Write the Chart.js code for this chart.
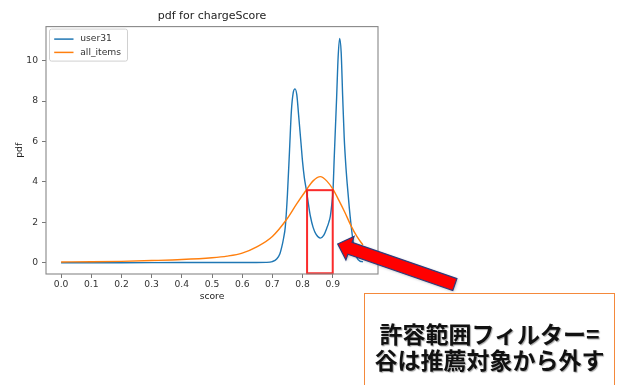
<!DOCTYPE html>
<html>
<head>
<meta charset="utf-8">
<script src="https://cdn.jsdelivr.net/npm/chart.js@4.4.1/dist/chart.umd.min.js"></script>
<style>
  html, body { margin: 0; padding: 0; background: #fff; }
  #wrap { position: relative; width: 619px; height: 385px; overflow: hidden; }
  #chart { position: absolute; left: 0; top: 0; }
  #note {
    position: absolute; left: 364px; top: 293px; width: 251px; height: 120px;
    box-sizing: border-box; border: 1.5px solid #f4893b;
    font-family: "Noto Sans CJK JP", sans-serif; font-weight: bold;
    font-size: 23px; line-height: 26px; text-align: center;
    padding-top: 26px; color: #111;
    text-shadow: 1px 1px 1px rgba(0,0,0,0.35);
  }
</style>
</head>
<body>
<div id="wrap">
  <canvas id="chart" width="619" height="385"></canvas>
  <div id="note">許容範囲フィルター=<br>谷は推薦対象から外す</div>
</div>
<script>
// values
const BLUE_X = [0.00, 0.20, 0.40, 0.60, 0.68, 0.70, 0.715, 0.725, 0.731, 0.737, 0.743, 0.75, 0.757, 0.763, 0.769, 0.775,
  0.781, 0.787, 0.795, 0.80, 0.806, 0.8125, 0.82, 0.826, 0.835, 0.845, 0.859, 0.87, 0.88, 0.887, 0.892, 0.897, 0.901,
  0.905, 0.909, 0.913, 0.918, 0.923, 0.928, 0.933, 0.938, 0.943, 0.948, 0.955, 0.964, 0.972, 0.98, 0.99, 1.00];
const BLUE_Y = [0.00, 0.00, 0.01, 0.01, 0.02, 0.06, 0.2, 0.45, 0.77, 1.2, 1.8, 3.4, 5.6, 7.5, 8.4, 8.6,
  8.3, 7.3, 5.9, 5.0, 4.2, 3.6, 2.85, 2.3, 1.75, 1.4, 1.22, 1.35, 1.7, 2.0, 2.3, 2.9, 3.6,
  5.2, 6.7, 8.2, 10.2, 11.1, 10.4, 8.2, 6.2, 4.9, 3.9, 2.7, 1.45, 0.65, 0.25, 0.08, 0.05];

const ORANGE_X = [0.00, 0.10, 0.20, 0.30, 0.40, 0.50, 0.55, 0.60, 0.65, 0.70, 0.75, 0.78, 0.8125, 0.835, 0.859,
  0.88, 0.90, 0.92, 0.94, 0.96, 0.98, 1.00];
const ORANGE_Y = [0.04, 0.05, 0.07, 0.11, 0.16, 0.25, 0.33, 0.48, 0.8, 1.3, 2.2, 2.9, 3.6, 4.05, 4.26,
  4.05, 3.65, 3.1, 2.5, 1.85, 1.3, 0.88];

const X_TICKS = [0.0, 0.1, 0.2, 0.3, 0.4, 0.5, 0.6, 0.7, 0.8, 0.9];
const Y_TICKS = [0, 2, 4, 6, 8, 10];
const X_RANGE = [-0.05, 1.05];
const Y_RANGE = [-0.556, 11.68];

// annotations in data units: [x0, x1, y0, y1] and arrow [x, y]
const VALLEY_BOX = [0.815, 0.90, -0.52, 3.59];
const ARROW_TIP = [0.9165, 0.93];
const ARROW_TAIL = [1.3046, -1.077];

const tickFont = { family: 'DejaVu Sans', size: 9.2 };

const framePlugin = {
  id: 'frame',
  afterDatasetsDraw(chart) {
    const { ctx, chartArea: a, scales: { x, y } } = chart;
    // red box over the valley
    const x0 = x.getPixelForValue(VALLEY_BOX[0]), x1 = x.getPixelForValue(VALLEY_BOX[1]);
    const y0 = y.getPixelForValue(VALLEY_BOX[2]), y1 = y.getPixelForValue(VALLEY_BOX[3]);
    ctx.save();
    ctx.strokeStyle = 'rgba(250,20,20,0.9)';
    ctx.lineWidth = 2;
    ctx.strokeRect(x0, y1, x1 - x0, y0 - y1);
    // spines
    ctx.strokeStyle = '#888';
    ctx.lineWidth = 1.1;
    ctx.strokeRect(a.left, a.top, a.right - a.left, a.bottom - a.top);
    ctx.restore();
  },
  afterDraw(chart) {
    const { ctx, chartArea: a, scales: { x, y } } = chart;
    // legend
    const bx = a.left + 3.5, by = a.top + 2.5, bw = 78, bh = 32;
    ctx.save();
    ctx.fillStyle = 'rgba(255,255,255,0.8)';
    ctx.strokeStyle = '#d0d0d0';
    ctx.lineWidth = 1;
    ctx.beginPath();
    ctx.roundRect(bx, by, bw, bh, 2);
    ctx.fill();
    ctx.stroke();
    ctx.font = '9.2px "DejaVu Sans"';
    ctx.textBaseline = 'middle';
    chart.data.datasets.forEach((ds, i) => {
      const ly = by + 10 + i * 13.3;
      ctx.strokeStyle = ds.borderColor;
      ctx.lineWidth = 1.5;
      ctx.beginPath();
      ctx.moveTo(bx + 4.7, ly);
      ctx.lineTo(bx + 24, ly);
      ctx.stroke();
      ctx.fillStyle = '#333';
      ctx.fillText(ds.label, bx + 30.7, ly);
    });

    // big red arrow
    const T = { x: x.getPixelForValue(ARROW_TIP[0]), y: y.getPixelForValue(ARROW_TIP[1]) };
    const C = { x: x.getPixelForValue(ARROW_TAIL[0]), y: y.getPixelForValue(ARROW_TAIL[1]) };
    const len = Math.hypot(T.x - C.x, T.y - C.y);
    const ux = (T.x - C.x) / len, uy = (T.y - C.y) / len;
    const nx = -uy, ny = ux;
    const headLen = 13, headHalf = 12.5, shaftHalf = 6.3;
    const B = { x: T.x - ux * headLen, y: T.y - uy * headLen };
    const pts = [
      [C.x + nx * shaftHalf, C.y + ny * shaftHalf],
      [B.x + nx * shaftHalf, B.y + ny * shaftHalf],
      [B.x + nx * headHalf, B.y + ny * headHalf],
      [T.x, T.y],
      [B.x - nx * headHalf, B.y - ny * headHalf],
      [B.x - nx * shaftHalf, B.y - ny * shaftHalf],
      [C.x - nx * shaftHalf, C.y - ny * shaftHalf]
    ];
    ctx.beginPath();
    pts.forEach((p, i) => i ? ctx.lineTo(p[0], p[1]) : ctx.moveTo(p[0], p[1]));
    ctx.closePath();
    ctx.shadowColor = 'rgba(0,0,0,0.3)';
    ctx.shadowBlur = 3;
    ctx.shadowOffsetX = 1;
    ctx.shadowOffsetY = 1;
    ctx.fillStyle = '#ff0000';
    ctx.fill();
    ctx.shadowColor = 'transparent';
    ctx.strokeStyle = '#2d3c7c';
    ctx.lineWidth = 1.2;
    ctx.lineJoin = 'miter';
    ctx.stroke();
    ctx.restore();
  }
};

new Chart(document.getElementById('chart'), {
  type: 'line',
  data: {
    datasets: [
      {
        label: 'user31',
        data: BLUE_X.map((v, i) => ({ x: v, y: BLUE_Y[i] })),
        borderColor: '#1f77b4', borderWidth: 1.4, pointRadius: 0,
        cubicInterpolationMode: 'monotone', fill: false, order: 1
      },
      {
        label: 'all_items',
        data: ORANGE_X.map((v, i) => ({ x: v, y: ORANGE_Y[i] })),
        borderColor: '#ff7f0e', borderWidth: 1.4, pointRadius: 0,
        cubicInterpolationMode: 'monotone', fill: false, order: 0
      }
    ]
  },
  options: {
    responsive: false,
    animation: false,
    layout: { padding: { left: 0, top: 0, right: 241, bottom: 71 } },
    plugins: {
      legend: { display: false },
      tooltip: { enabled: false },
      title: {
        display: true, text: 'pdf for chargeScore', fullSize: false,
        font: { family: 'DejaVu Sans', size: 11, weight: 'normal' }, color: '#222',
        padding: { top: 10, bottom: 3.4 }
      }
    },
    scales: {
      x: {
        type: 'linear', min: X_RANGE[0], max: X_RANGE[1],
        afterBuildTicks: s => { s.ticks = X_TICKS.map(v => ({ value: v })); },
        afterFit: s => { s.height = 40; },
        ticks: { font: tickFont, color: '#333', padding: 1, maxRotation: 0, autoSkip: false,
          callback: v => v.toFixed(1) },
        grid: { drawOnChartArea: false, drawTicks: true, tickLength: 4, color: '#777' },
        border: { display: false },
        title: { display: true, text: 'score', font: tickFont, color: '#222', padding: { top: 0, bottom: 11.8 } }
      },
      y: {
        type: 'linear', min: Y_RANGE[0], max: Y_RANGE[1],
        afterBuildTicks: s => { s.ticks = Y_TICKS.map(v => ({ value: v })); },
        afterFit: s => { s.width = 46; },
        ticks: { font: tickFont, color: '#333', padding: 4 },
        grid: { drawOnChartArea: false, drawTicks: true, tickLength: 4, color: '#777' },
        border: { display: false },
        title: { display: true, text: 'pdf', font: tickFont, color: '#222', padding: { top: 14.5, bottom: 0 } }
      }
    }
  },
  plugins: [framePlugin]
});
</script>
</body>
</html>
